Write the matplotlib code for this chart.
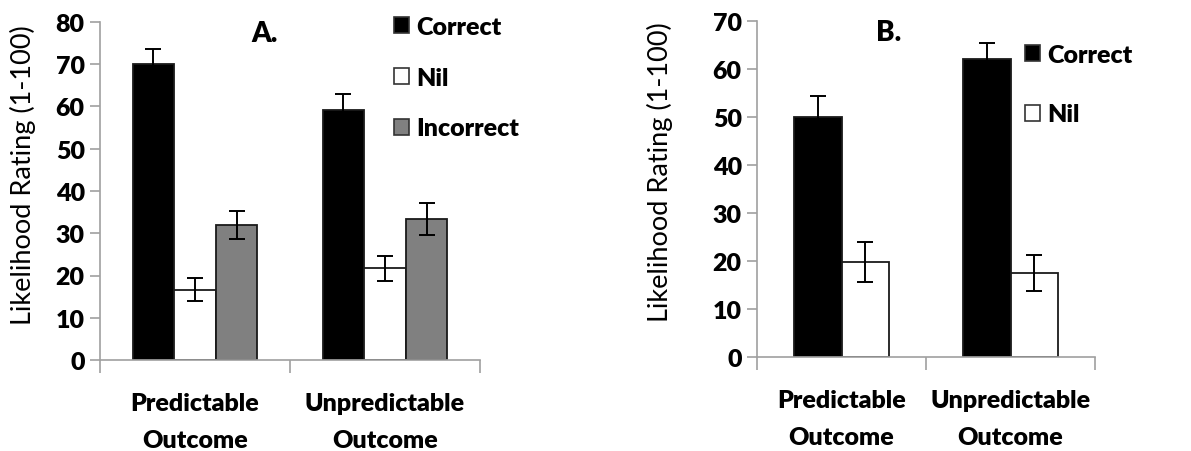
import matplotlib
matplotlib.use("Agg")
import matplotlib.pyplot as plt
from matplotlib.patches import Patch
import numpy as np

plt.rcParams['font.family'] = ['Lato', 'DejaVu Sans']

categories = ["Predictable\nOutcome", "Unpredictable\nOutcome"]

# Panel A
a_series = ["Correct", "Nil", "Incorrect"]
a_values = {"Correct": [70.0, 59.2], "Nil": [16.6, 21.7], "Incorrect": [32.0, 33.3]}
a_errors = {"Correct": [3.5, 3.8], "Nil": [2.7, 3.0], "Incorrect": [3.3, 3.8]}
a_yticks = [0, 10, 20, 30, 40, 50, 60, 70, 80]

# Panel B
b_series = ["Correct", "Nil"]
b_values = {"Correct": [50.0, 62.0], "Nil": [19.7, 17.4]}
b_errors = {"Correct": [4.4, 3.4], "Nil": [4.1, 3.7]}
b_yticks = [0, 10, 20, 30, 40, 50, 60, 70]

colors = {"Correct": "#000000", "Nil": "#ffffff", "Incorrect": "#808080"}

W, H = 1191, 452
fig = plt.figure(figsize=(W / 100, H / 100), dpi=100)

def px_axes(l, r, top, bottom):
    return fig.add_axes([l / W, 1 - bottom / H, (r - l) / W, (bottom - top) / H])

axA = px_axes(100, 480, 23, 361)
axB = px_axes(757, 1095, 21.7, 357.7)

FS = 18
WT = "heavy"
spine_col = "#a0a0a0"

def draw(ax, series, values, errors, yticks, bw):
    n = len(series)
    centers = np.arange(len(categories)) + 0.5
    for i, s in enumerate(series):
        x = centers + (i - (n - 1) / 2) * bw
        ax.bar(x, values[s], width=bw, color=colors[s], edgecolor="#1a1a1a",
               linewidth=1.3, zorder=2)
        ax.errorbar(x, values[s], yerr=errors[s], fmt="none", ecolor="black",
                    elinewidth=1.4, capsize=6, capthick=1.4, zorder=3)
    ax.set_xlim(0, len(categories))
    ax.set_ylim(yticks[0], yticks[-1])
    ax.set_yticks(yticks)
    ax.set_yticklabels([str(t) for t in yticks], fontsize=FS, fontweight=WT)
    ax.set_xticks(centers)
    ax.set_xticklabels(categories, fontsize=FS, fontweight=WT, linespacing=1.84)
    ax.set_xticks(np.arange(len(categories) + 1), minor=True)
    ax.tick_params(axis="x", which="major", length=0, pad=23)
    ax.tick_params(axis="x", which="minor", length=9, width=1.2, color=spine_col, direction="out")
    ax.tick_params(axis="y", length=7, width=1.2, color=spine_col, direction="out", pad=4)
    for sp in ["top", "right"]:
        ax.spines[sp].set_visible(False)
    for sp in ["left", "bottom"]:
        ax.spines[sp].set_color(spine_col)
        ax.spines[sp].set_linewidth(1.2)

draw(axA, a_series, a_values, a_errors, a_yticks, 0.219)
draw(axB, b_series, b_values, b_errors, b_yticks, 0.282)

ylab = "Likelihood Rating (1-100)"
fig.text(23 / W, 1 - 175 / H, ylab, rotation=90, ha="center", va="center", fontsize=19.5)
fig.text(660 / W, 1 - 172 / H, ylab, rotation=90, ha="center", va="center", fontsize=19.5)

fig.text(265 / W, 1 - 34 / H, "A.", ha="center", va="center", fontsize=20, fontweight=WT)
fig.text(889 / W, 1 - 33 / H, "B.", ha="center", va="center", fontsize=20, fontweight=WT)

def legend(ax, series, x, y, spacing):
    handles = [Patch(facecolor=colors[s], edgecolor="#333333", linewidth=1.2) for s in series]
    leg = ax.legend(handles, series, loc="upper left", bbox_to_anchor=(x / W, 1 - y / H),
                    bbox_transform=fig.transFigure, frameon=False,
                    prop={"size": FS, "weight": WT}, handlelength=0.6,
                    handleheight=0.6, handletextpad=0.3, labelspacing=spacing,
                    borderpad=0, borderaxespad=0)
    return leg

legend(axA, a_series, 394, 17, 1.15)
legend(axB, b_series, 1025, 45, 1.5)

fig.savefig("out.png", dpi=100)
